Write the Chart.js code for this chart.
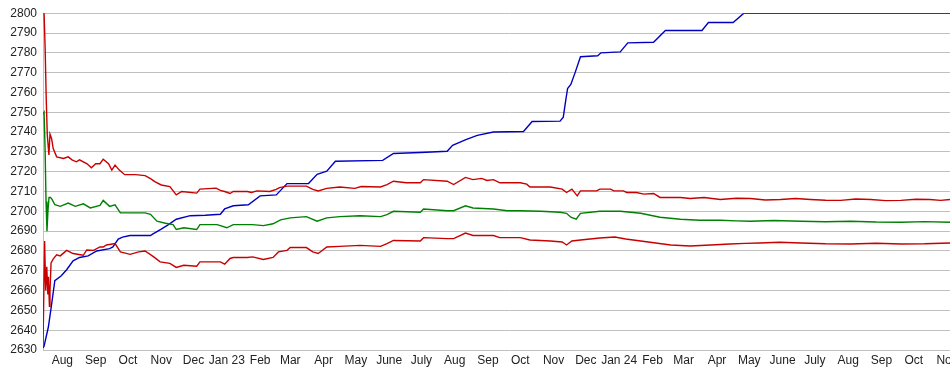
<!DOCTYPE html>
<html><head><meta charset="utf-8">
<script src="https://cdn.jsdelivr.net/npm/chart.js@4/dist/chart.umd.min.js"></script>
<style>
html,body{margin:0;padding:0;overflow:hidden;background:#fff;width:950px;height:375px}
#wrap{position:relative;width:975px;height:375px}
</style></head>
<body><div id="wrap"><canvas id="c" width="975" height="375"></canvas></div>
<script>
// x values are days since 2022-07-14
const START = Date.UTC(2022, 6, 14);
const monthStarts = ['2022-08-01','2022-09-01','2022-10-01','2022-11-01','2022-12-01','2023-01-01','2023-02-01','2023-03-01','2023-04-01','2023-05-01','2023-06-01','2023-07-01','2023-08-01','2023-09-01','2023-10-01','2023-11-01','2023-12-01','2024-01-01','2024-02-01','2024-03-01','2024-04-01','2024-05-01','2024-06-01','2024-07-01','2024-08-01','2024-09-01','2024-10-01','2024-11-01'];
const monthLabels = ['Aug','Sep','Oct','Nov','Dec','Jan 23','Feb','Mar','Apr','May','June','July','Aug','Sep','Oct','Nov','Dec','Jan 24','Feb','Mar','Apr','May','June','July','Aug','Sep','Oct','Nov'];

const blueDays = [0,1,5,8,11,17,22,28,34,42,50,62,65,70,74,81,100,102,110,116,124,137,151,165,169,177,191,202,217,227,247,255,264,272,316,326,351,376,381,394,404,419,447,455,481,484,486,488,491,495,500,516,519,537,544,568,579,613,619,642,652,844];
const blueVals = [2631,2632,2641.6,2653,2665,2667.5,2670.5,2675,2676.7,2677.5,2680,2681.2,2682,2686,2687,2687.8,2687.8,2688.5,2691,2693,2696,2697.8,2698,2698.5,2701.2,2702.8,2703.3,2707.8,2708.3,2714,2714,2718.7,2720.3,2725.3,2725.7,2729.2,2729.7,2730.3,2733.3,2736.3,2738.3,2740,2740.3,2745.3,2745.5,2747.5,2755,2762,2764,2770,2778,2778.5,2780,2780.5,2785,2785.3,2791.3,2791.3,2795.3,2795.3,2800,2800];

const upperDays = [0,1,2,3,4,5.5,6.5,8,9.5,12.7,19,23.5,27,31,34,41,45,49,53,56,61,64,67,71,76,86,95,100,104,110,118,124,129,143,146,161,165,169,174,177,190,194,199,211,217,220,227,245,251,256,264,276,290,296,314,320,326,338,351,354,376,382,393,400,408,413,419,425,444,450,453,472,483,487,492,497,500,515,518,528,531,540,543,552,559,568,574,593,602,615,630,645,658,672,686,700,714,728,742,756,770,784,798,812,825,835,844];
const upperVals = [2800,2800,2782,2757,2738.5,2728.5,2739,2736.7,2731.7,2727.5,2726.7,2727.5,2726,2725,2726,2724,2722,2724,2724,2726.3,2724,2720.8,2723.3,2720.8,2718.5,2718.5,2718,2716.5,2715,2713.3,2712.5,2708.3,2710,2709.2,2711.2,2711.7,2710.6,2710,2709,2710,2710,2709.5,2710.3,2710,2711.1,2712,2712.7,2712.7,2711.1,2710.3,2711.6,2712.3,2711.6,2712.5,2712.3,2713.5,2715.2,2714.4,2714.4,2716,2715.2,2713.5,2717.1,2716,2716.6,2715.6,2716,2714.4,2714.4,2713.7,2712.3,2712.3,2711.2,2709.5,2711.2,2707.8,2710.3,2710.3,2711.2,2711.2,2710.3,2710.3,2709.5,2709.5,2708.7,2709,2707,2707,2706.5,2707,2706,2706.6,2706.5,2705.7,2706,2706.5,2706,2705.6,2705.5,2706.2,2706,2705.4,2705.5,2706.1,2706,2705.5,2706];

const midDays = [0,1,2,2.8,3.7,4.6,5.6,7,8.4,11,16,23.5,30,37.5,44,53,56,62,67,72,87,95,100,106,114,121,124,131,143,146,162,165,171,177,195,205,214,221,230,245,255,264,276,295,314,320,326,351,354,376,382,393,400,419,432,444,463,481,487,491,496,500,518,537,556,565,574,593,611,630,645,658,680,705,728,751,775,798,820,844];
const midVals = [2749,2750,2730,2705,2690,2700,2707,2707,2706,2703.3,2702.5,2704.2,2702.5,2703.8,2701.7,2703,2705.5,2702.5,2703.3,2699.2,2699.2,2699.2,2698.5,2695,2694,2693.3,2690.8,2691.7,2690.8,2693.3,2693.3,2692.8,2691.7,2693.3,2693.3,2692.8,2693.7,2695.7,2696.7,2697.3,2695,2696.7,2697.3,2697.8,2697.3,2698.3,2700,2699.5,2701.2,2700.3,2700.3,2702.8,2701.7,2701.2,2700.3,2700.3,2700,2699.5,2699,2697,2696,2699,2700,2700,2699,2698,2697,2696,2695.5,2695.5,2695.2,2695,2695.4,2695,2694.7,2695,2694.6,2694.5,2694.8,2694.5];

const lowerDays = [0,1.5,2.5,3.5,4.5,5,6,6.5,7.5,9.6,12.7,16,22,28,37.5,40.7,47,53,56,59,67,72,81,89,95,103,109,118,124,131,143,146,165,169,174,177,190,195,205,214,219,227,230,245,251,256,264,276,295,314,320,326,351,354,376,382,393,400,419,425,444,453,472,483,487,492,500,518,532,542,556,570,584,602,621,639,653,667,685,705,728,751,775,798,820,844];
const lowerVals = [2632,2685,2660,2672,2658,2667,2652,2660,2674,2676,2678,2677.5,2680.3,2678.7,2677.8,2680.5,2680.3,2682,2682,2683,2683.7,2679.5,2678.3,2679.5,2680,2677,2674.5,2673.7,2671.7,2672.8,2672.3,2674.5,2674.5,2673.3,2676.2,2676.7,2676.7,2677,2675.7,2676.7,2679.5,2680.3,2681.7,2681.7,2679.5,2678.7,2682,2682.3,2682.8,2682.3,2683.7,2685.3,2685,2686.7,2686.2,2686.2,2689,2687.8,2687.8,2686.7,2686.7,2685.5,2685,2684.5,2683,2685,2685.5,2686.5,2687,2686,2685,2684,2683,2682.5,2683,2683.5,2683.8,2684,2684.4,2684,2683.6,2683.5,2683.9,2683.5,2683.6,2684];

const yTicks = {min: 2630, max: 2800, step: 10};

const dayOf = s => { const p = s.split('-').map(Number); return (Date.UTC(p[0], p[1]-1, p[2]) - START) / 864e5; };
const monthDays = monthStarts.map(dayOf);
const pts = (d, v) => d.map((x, i) => ({x, y: v[i]}));

const FONT = {family: '"Liberation Sans", Arial, sans-serif', size: 12};
const mk = (label, d, v, color) => ({label, data: pts(d, v), borderColor: color, borderWidth: 1.4, pointRadius: 0, tension: 0, fill: false});

new Chart(document.getElementById('c'), {
  type: 'line',
  data: {datasets: [
    mk('upper', upperDays, upperVals, '#c80000'),
    mk('lower', lowerDays, lowerVals, '#c80000'),
    mk('mid', midDays, midVals, '#008000'),
    mk('rating', blueDays, blueVals, '#0000c0')
  ]},
  options: {
    responsive: false, animation: false, devicePixelRatio: 1,
    layout: {padding: {top: 10, left: 0, right: 0, bottom: 0}},
    plugins: {legend: {display: false}, tooltip: {enabled: false}},
    scales: {
      x: {
        type: 'linear', min: 0, max: 867,
        afterBuildTicks: s => { s.ticks = monthDays.map(v => ({value: v})); },
        afterFit: s => { s.height = 25; },
        ticks: {callback: (v, i) => monthLabels[i], autoSkip: false, maxRotation: 0, font: FONT, color: '#222', padding: 3},
        grid: {display: false, drawTicks: false},
        border: {display: false}
      },
      y: {
        min: yTicks.min, max: yTicks.max,
        afterFit: s => { s.width = 43; },
        ticks: {stepSize: yTicks.step, font: FONT, color: '#222', padding: 6, callback: v => String(v)},
        grid: {color: '#c0c0c0', drawTicks: false, lineWidth: 1},
        border: {display: true, color: '#c0c0c0'}
      }
    }
  }
});
</script></body></html>
